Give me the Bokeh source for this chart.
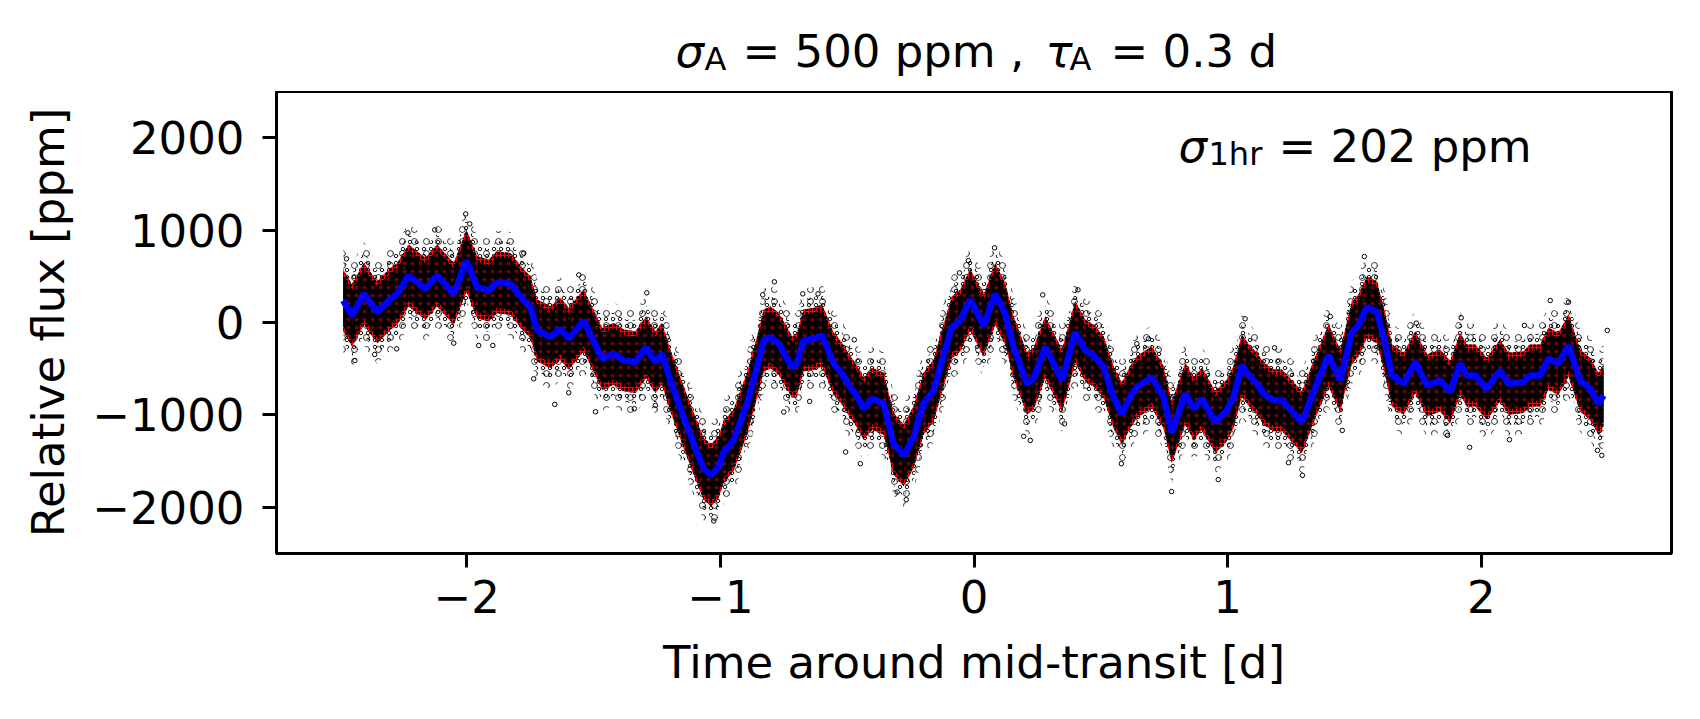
import numpy as np
from bokeh.plotting import figure
from bokeh.layouts import column
from bokeh.models import Label, FixedTicker
from bokeh.embed import file_html
from bokeh.resources import INLINE

# ---------------- data ----------------
# smoothed model (blue line): time [d], relative flux [ppm]
t_model = [-2.487, -2.452, -2.406, -2.353, -2.301, -2.274, -2.229, -2.163, -2.117, -2.051,
           -2.001, -1.959, -1.913, -1.880, -1.828, -1.775, -1.749, -1.722, -1.670, -1.631,
           -1.598, -1.539, -1.466, -1.420, -1.381, -1.335, -1.292, -1.276, -1.256, -1.230,
           -1.197, -1.145, -1.105, -1.066, -1.037, -1.007, -0.987, -0.948, -0.895, -0.855,
           -0.829, -0.803, -0.770, -0.717, -0.698, -0.672, -0.632, -0.599, -0.553, -0.520,
           -0.488, -0.468, -0.435, -0.402, -0.356, -0.317, -0.277, -0.238, -0.199, -0.159,
           -0.126, -0.087, -0.054, -0.015, 0.038, 0.084, 0.123, 0.156, 0.209, 0.235,
           0.281, 0.347, 0.399, 0.439, 0.471, 0.511, 0.550, 0.583, 0.616, 0.642,
           0.701, 0.747, 0.780, 0.833, 0.866, 0.899, 0.951, 0.997, 1.023, 1.056,
           1.089, 1.116, 1.142, 1.181, 1.214, 1.247, 1.293, 1.346, 1.398, 1.444,
           1.490, 1.516, 1.549, 1.588, 1.615, 1.648, 1.694, 1.740, 1.786, 1.838,
           1.877, 1.917, 1.943, 1.976, 2.022, 2.074, 2.107, 2.166, 2.193, 2.232,
           2.265, 2.304, 2.344, 2.390, 2.429, 2.462, 2.482]
f_model = [238, 76, 310, 111, 256, 310, 508, 364, 508, 310,
           670, 382, 346, 436, 418, 238, 166, -86, -159, -68,
           -176, 22, -392, -338, -411, -429, -267, -350, -429, -338,
           -627, -1024, -1312, -1582, -1654, -1564, -1402, -1276, -879, -483,
           -195, -159, -230, -483, -446, -195, -176, -141, -446, -555,
           -699, -771, -933, -825, -879, -1312, -1438, -1240, -879, -735,
           -411, -51, 22, 247, -32, 310, 94, -267, -663, -609,
           -267, -627, -105, -303, -357, -483, -807, -987, -807, -699,
           -591, -807, -1186, -771, -933, -825, -1078, -951, -807, -465,
           -591, -663, -771, -843, -843, -940, -1078, -699, -357, -627,
           -105, -32, 166, 111, -159, -573, -663, -429, -681, -627,
           -753, -446, -573, -573, -717, -519, -663, -645, -573, -573,
           -392, -446, -249, -627, -717, -879, -789]

# spread of the measurements around the model [ppm]
core_spread = 275
mixed_spread = 335
inner_fringe_spread = 450
outer_fringe_spread = 560

# isolated measurements lying outside the dense cloud
t_out = [-2.004, -1.988, -2.126, -2.232, -2.474, -2.441, -2.363, -2.276, -2.051, -1.953,
         -1.897, -1.775, -1.558, -1.653, -1.492, -1.598, -1.290, -1.339, -1.736, -1.026,
         -0.787, -0.833, -0.675, -0.615, -0.648, -0.750, -0.506, -0.448, -0.267, -1.256,
         -0.022, -0.057, -0.472, -0.303, 0.081, 0.410, 0.271, 0.196, 0.222, 0.357,
         0.581, 0.779, 0.963, 1.069, 1.185, 0.642, 0.688, 1.240, 1.539, 1.295,
         1.954, 2.458, 2.475, 2.497, 2.272, 2.344, 1.921, 2.170, 1.452, 1.867,
         2.111, 1.405, 1.744]
f_out = [1175, 1067, 1002, 970, 689, -411, -346, -285, -223, -249,
         -249, 750, 515, -886, -966, -760, 321, -933, -609, -2148,
         440, 299, 310, 310, -854, -969, -1402, -1528, -1917, -897,
         670, 537, -187, -1834, 808, 353, 299, -1232, -1276, -1096,
         -1528, -1830, -1700, 40, -274, -230, -176, -1517, 714, -1654,
         -1351, -1384, -1438, -86, 238, 220, 51, -32, -1168, -1222,
         -1268, 65, -7]

x_ticks = [-2, -1, 0, 1, 2]
x_tick_labels = ["\u22122", "\u22121", "0", "1", "2"]
y_ticks = [-2000, -1000, 0, 1000, 2000]
y_tick_labels = ["\u22122000", "\u22121000", "0", "1000", "2000"]

title_sigma_value = "= 500 ppm ,"
title_tau_value = "= 0.3 d"
note_value = "= 202 ppm"

# ---------------- layout ----------------
X0, X1 = -2.75, 2.75
Y0, Y1 = -2500, 2500
FW, FH = 1395, 462
ML, MR = 276, 20
TOP = 91            # height of the title strip above the frame
MB = 158
FONT = "DejaVu Sans"
FS = "45px"
FS_SUB = "32px"
BASE_SHIFT = 16     # Bokeh draws "alphabetic" labels lower than the nominal baseline


def px2x(px):
    return X0 + (px - ML) / FW * (X1 - X0)


def put(fig, text, x, y, size=FS, style="normal"):
    fig.add_layout(Label(x=x, y=y, text=text, text_font=FONT,
                         text_font_size=size, text_font_style=style, text_color="black",
                         text_align="left", text_baseline="alphabetic"))


# title strip: same horizontal geometry as the main plot, vertical range in page pixels
t = figure(frame_width=FW, frame_height=TOP, x_range=(X0, X1), y_range=(TOP, 0),
           output_backend="svg", toolbar_location=None,
           min_border_left=ML, min_border_right=MR, min_border_top=0, min_border_bottom=0)
t.axis.visible = False
t.grid.visible = False
t.outline_line_color = None
t.background_fill_color = "white"
t.border_fill_color = "white"

put(t, "\u03c3", px2x(675), 67 - BASE_SHIFT, style="italic")
put(t, "A", px2x(704), 74 - BASE_SHIFT, size=FS_SUB)
put(t, title_sigma_value, px2x(742), 67 - BASE_SHIFT)
put(t, "\u03c4", px2x(1045), 67 - BASE_SHIFT, style="italic")
put(t, "A", px2x(1069), 74 - BASE_SHIFT, size=FS_SUB)
put(t, title_tau_value, px2x(1110), 67 - BASE_SHIFT)

p = figure(frame_width=FW, frame_height=FH, x_range=(X0, X1), y_range=(Y0, Y1),
           output_backend="svg", toolbar_location=None,
           min_border_left=ML, min_border_right=MR, min_border_top=0, min_border_bottom=MB)
p.background_fill_color = "white"
p.border_fill_color = "white"
p.grid.visible = False
p.outline_line_color = "black"
p.outline_line_width = 3
p.outline_line_alpha = 1

for ax in (p.xaxis[0], p.yaxis[0]):
    ax.axis_line_color = None
    ax.major_tick_out = 14
    ax.major_tick_in = 0
    ax.major_tick_line_width = 3
    ax.major_tick_line_color = "black"
    ax.minor_tick_line_color = None
    ax.major_label_text_font = FONT
    ax.major_label_text_font_size = FS
    ax.major_label_text_color = "black"
    ax.axis_label_text_font = FONT
    ax.axis_label_text_font_size = FS
    ax.axis_label_text_font_style = "normal"
    ax.axis_label_text_color = "black"

p.xaxis.ticker = FixedTicker(ticks=x_ticks)
p.xaxis.major_label_overrides = {float(k): v for k, v in zip(x_ticks, x_tick_labels)}
p.yaxis.ticker = FixedTicker(ticks=y_ticks)
p.yaxis.major_label_overrides = {float(k): v for k, v in zip(y_ticks, y_tick_labels)}
p.xaxis.axis_label = "Time around mid-transit [d]"
p.yaxis.axis_label = "Relative flux [ppm]"
p.xaxis.major_label_standoff = 12
p.yaxis.major_label_standoff = 18
p.xaxis.axis_label_standoff = 20
p.yaxis.axis_label_standoff = 14

tm = np.array(t_model, dtype=float)
fm = np.array(f_model, dtype=float)

# sparse fringe of points
p.varea(x=tm, y1=fm - outer_fringe_spread, y2=fm + outer_fringe_spread, fill_alpha=0,
        hatch_pattern="ring", hatch_scale=12, hatch_weight=1, hatch_color="black", hatch_alpha=0.8)
p.varea(x=tm, y1=fm - inner_fringe_spread, y2=fm + inner_fringe_spread, fill_alpha=0,
        hatch_pattern="ring", hatch_scale=7, hatch_weight=1, hatch_color="black", hatch_alpha=0.9)
# red line of the data under the points
p.varea(x=tm, y1=fm - mixed_spread, y2=fm + mixed_spread, fill_color="red", fill_alpha=1)
p.varea(x=tm, y1=fm - mixed_spread, y2=fm + mixed_spread, fill_alpha=0,
        hatch_pattern="ring", hatch_scale=4, hatch_weight=1.2, hatch_color="black", hatch_alpha=1)
# dense core of points
p.varea(x=tm, y1=fm - core_spread, y2=fm + core_spread, fill_color="black", fill_alpha=1,
        hatch_pattern="dot", hatch_scale=8, hatch_color="red", hatch_alpha=0.45)
# isolated points
p.scatter(x=t_out, y=f_out, marker="circle", size=4.5, fill_color=None,
          line_color="black", line_width=1)
# smoothed model
p.line(x=tm, y=fm, line_color="#0000ff", line_width=6.5)


# note inside the frame
def px2y(py):
    return Y1 - (py - TOP) / FH * (Y1 - Y0)


put(p, "\u03c3", px2x(1178), px2y(162 - BASE_SHIFT), style="italic")
put(p, "1hr", px2x(1208), px2y(169 - BASE_SHIFT), size=FS_SUB)
put(p, note_value, px2x(1278), px2y(162 - BASE_SHIFT))

layout = column(t, p, spacing=0)
open("out.html", "w").write(file_html(layout, INLINE))
